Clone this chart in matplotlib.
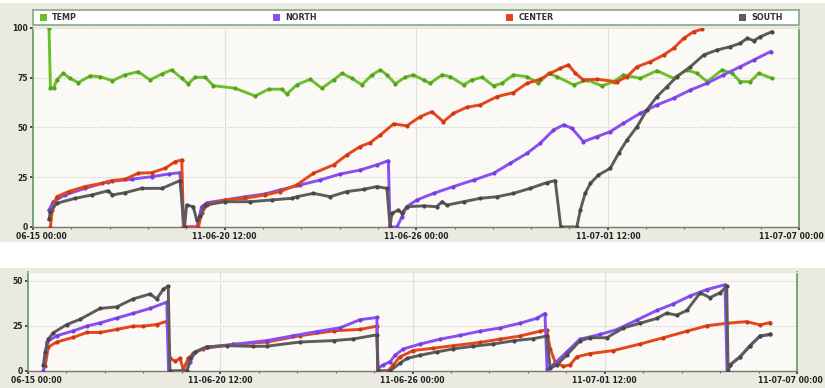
import matplotlib
matplotlib.use('Agg')
import matplotlib.pyplot as plt
import matplotlib.transforms as mtransforms
from matplotlib.patches import Rectangle
import numpy as np
import pandas as pd

# 数据：时间为距 2011-06-15 00:00 的天数
START = pd.Timestamp('2011-06-15 00:00')

TEMP_T = [0.46, 0.50, 0.60, 0.68, 0.87, 1.06, 1.30, 1.64, 1.92, 2.28, 2.64, 3.02, 3.36, 3.70, 3.98,
          4.27, 4.46, 4.65, 4.94, 5.18, 5.80, 6.38, 6.76, 7.14, 7.29, 7.57, 7.96, 8.29, 8.63, 8.87,
          9.15, 9.44, 9.73, 9.97, 10.16, 10.40, 10.68, 10.92, 11.21, 11.40, 11.74, 11.98, 12.36, 12.60, 12.89,
          13.22, 13.46, 13.79, 14.18, 14.51, 14.80, 15.04, 15.52, 15.90, 16.33, 16.67, 16.95, 17.43, 17.91, 18.39,
          18.77, 19.06, 19.35, 19.78, 20.07, 20.30, 20.59, 20.83, 21.21]
TEMP_V = [100, 70, 70, 73.9, 77.2, 74.7, 72.5, 75.9, 75.5, 73.5, 76.4, 78.0, 73.9, 76.9, 78.9,
          74.7, 71.9, 75.2, 75.2, 71.0, 69.7, 65.8, 69.2, 69.2, 66.8, 71.4, 74.2, 69.7, 73.9, 77.2,
          74.7, 71.4, 76.4, 78.9, 76.4, 71.9, 75.2, 76.4, 73.9, 72.2, 76.4, 75.5, 71.4, 73.9, 75.2,
          70.9, 72.2, 76.4, 75.5, 72.2, 77.2, 75.5, 71.4, 73.9, 70.9, 73.0, 76.4, 74.7, 78.5, 74.7,
          78.9, 77.2, 73.0, 78.9, 77.2, 73.0, 73.0, 77.2, 74.7]

NORTH_T = [0.46, 0.58, 0.92, 1.49, 2.16, 2.83, 3.41, 3.89, 4.22, 4.32, 4.70, 4.84, 4.99, 5.51, 6.09,
           6.66, 7.09, 7.67, 8.24, 8.82, 9.39, 9.87, 10.20, 10.25, 10.45, 10.59, 10.73, 11.02, 11.50, 12.07,
           12.65, 13.22, 13.70, 14.18, 14.56, 14.94, 15.23, 15.47, 15.80, 16.19, 16.57, 16.95, 17.43, 17.91, 18.39,
           18.87, 19.35, 19.82, 20.30, 20.69, 21.17]
NORTH_V = [8.5, 12.7, 16.1, 19.4, 22.8, 24.0, 25.3, 26.6, 27.3, 0, 0, 10.2, 12.2, 13.6, 15.2,
           16.6, 18.6, 21.1, 23.6, 26.6, 28.6, 31.2, 33.3, 0, 0, 5.2, 10.2, 13.6, 16.9, 20.3,
           23.6, 27.0, 32.0, 37.0, 42.1, 48.7, 51.3, 49.6, 42.9, 45.4, 47.9, 52.1, 57.1, 61.3, 64.7,
           68.8, 72.2, 76.4, 80.5, 83.9, 88.1]

CENTER_T = [0.50, 0.55, 0.68, 1.02, 1.49, 1.97, 2.26, 2.64, 3.02, 3.41, 3.79, 4.08, 4.27, 4.32, 4.75,
            4.84, 4.99, 5.51, 6.09, 6.66, 7.09, 7.57, 8.05, 8.63, 9.01, 9.39, 9.68, 9.97, 10.35, 10.73,
            11.11, 11.45, 11.78, 12.07, 12.46, 12.84, 13.32, 13.79, 14.18, 14.56, 14.85, 15.13, 15.37, 15.57, 15.80,
            16.19, 16.76, 17.05, 17.34, 17.72, 18.10, 18.39, 18.68, 18.96, 19.20]
CENTER_V = [0, 8.5, 15.2, 17.8, 20.3, 21.9, 23.3, 24.0, 27.0, 27.3, 29.5, 32.8, 33.7, 0, 0,
            7.0, 11.0, 13.6, 14.4, 16.1, 17.8, 21.1, 27.0, 31.2, 36.2, 40.4, 42.4, 46.2, 51.8, 50.8,
            55.4, 57.9, 52.9, 57.1, 60.2, 61.3, 65.5, 67.5, 72.2, 74.2, 77.2, 79.7, 81.4, 77.2, 73.9,
            74.2, 73.0, 75.5, 80.5, 83.0, 86.4, 89.8, 94.8, 98.1, 99.3]

SOUTH_T = [0.46, 0.50, 0.68, 1.21, 1.69, 2.16, 2.28, 2.64, 3.12, 3.70, 4.22, 4.35, 4.41, 4.60, 4.70,
           4.80, 4.94, 5.51, 6.24, 6.86, 7.43, 7.57, 8.05, 8.53, 9.01, 9.49, 9.87, 10.16, 10.25, 10.30,
           10.49, 10.59, 10.73, 11.21, 11.59, 11.74, 11.88, 12.36, 12.84, 13.32, 13.79, 14.27, 14.75, 14.99, 15.15,
           15.61, 15.71, 15.85, 16.00, 16.23, 16.57, 16.81, 17.05, 17.34, 17.62, 17.91, 18.20, 18.48, 18.87, 19.25,
           19.63, 20.02, 20.30, 20.50, 20.69, 20.88, 21.21]
SOUTH_V = [3.9, 7.7, 11.9, 14.4, 16.1, 18.2, 16.1, 17.2, 19.4, 19.4, 23.3, 0, 11.0, 10.2, 3.5,
           5.5, 11.0, 12.7, 12.7, 13.6, 14.4, 15.2, 16.9, 15.2, 17.8, 18.9, 20.3, 19.4, 0, 6.9,
           8.5, 6.9, 10.2, 10.6, 10.2, 12.7, 11.0, 12.7, 14.4, 15.2, 16.9, 19.4, 22.3, 23.3, 0,
           0, 8.5, 16.9, 21.9, 26.1, 29.5, 37.0, 43.7, 50.4, 58.8, 65.5, 70.5, 75.5, 80.5, 86.4,
           88.9, 90.6, 92.3, 94.8, 93.6, 95.6, 98.1]

# 下图（各区段的增量）
B_NORTH_T = [0.44, 0.54, 0.82, 1.30, 1.68, 2.06, 2.54, 3.01, 3.49, 3.97, 4.02, 4.54, 4.64, 4.78, 5.11,
             5.87, 6.83, 7.59, 8.26, 8.93, 9.50, 9.98, 10.01, 10.17, 10.36, 10.50, 10.74, 11.22, 11.79, 12.36,
             12.93, 13.50, 14.07, 14.55, 14.79, 14.85, 15.03, 15.41, 15.79, 16.37, 16.84, 17.42, 17.99, 18.46, 18.94,
             19.42, 19.94, 20.00, 20.09, 20.37, 20.66, 20.94, 21.23]
B_NORTH_V = [0, 16.0, 19.5, 22.2, 24.8, 26.6, 29.3, 31.9, 34.6, 38.1, 0, 0, 5.0, 10.5, 13.1,
             14.7, 16.8, 19.5, 21.8, 23.9, 28.4, 29.6, 1.6, 3.4, 5.1, 8.7, 12.2, 14.9, 17.6, 19.7,
             22.0, 23.8, 26.4, 29.1, 31.8, 1.0, 3.4, 10.5, 17.6, 20.2, 22.9, 28.2, 33.5, 37.1, 41.5,
             45.1, 47.7, 0, 3.4, 7.8, 14.0, 19.3, 20.2]

B_CENTER_T = [0.49, 0.58, 0.82, 1.30, 1.68, 2.06, 2.54, 3.01, 3.30, 3.68, 3.97, 4.06, 4.21, 4.35, 4.44,
              4.59, 4.73, 5.02, 5.87, 6.83, 7.78, 8.74, 9.50, 9.98, 10.01, 10.30, 10.45, 10.64, 11.02, 11.60,
              12.17, 12.93, 13.50, 14.07, 14.65, 14.84, 14.94, 15.08, 15.32, 15.51, 15.70, 16.08, 16.75, 17.51, 18.18,
              18.85, 19.42, 19.99, 20.56, 20.95, 21.23]
B_CENTER_V = [2.7, 13.3, 16.0, 18.6, 21.3, 21.3, 23.0, 24.8, 24.8, 25.7, 27.5, 7.1, 5.3, 7.1, 0.9,
              7.1, 9.7, 12.4, 14.7, 16.0, 19.5, 22.2, 23.0, 24.8, 0, 0, 3.4, 7.8, 11.3, 12.6,
              14.0, 15.8, 17.6, 19.3, 22.0, 22.9, 12.2, 5.1, 2.5, 3.4, 7.8, 9.6, 11.3, 14.9, 18.4,
              22.0, 25.0, 26.4, 27.3, 25.5, 26.8]

B_SOUTH_T = [0.44, 0.49, 0.58, 0.72, 1.11, 1.49, 2.06, 2.54, 3.01, 3.49, 3.68, 3.87, 4.01, 4.06, 4.54,
             4.64, 4.78, 5.11, 5.69, 6.45, 6.83, 7.78, 8.74, 9.31, 9.98, 10.01, 10.36, 10.64, 10.84, 11.22,
             11.69, 12.17, 12.74, 13.31, 13.89, 14.46, 14.84, 14.94, 15.13, 15.41, 15.79, 16.08, 16.56, 17.03, 17.51,
             17.99, 18.27, 18.56, 18.85, 19.23, 19.51, 19.80, 19.99, 20.03, 20.09, 20.37, 20.66, 20.94, 21.23]
B_SOUTH_V = [3.4, 10.5, 17.6, 21.1, 25.7, 28.6, 34.6, 35.5, 39.9, 42.6, 39.9, 45.2, 47.0, 0, 0,
             6.9, 10.5, 13.4, 14.0, 13.6, 13.7, 16.0, 16.8, 17.7, 20.0, 0, 0, 4.3, 6.9, 8.7,
             10.5, 12.2, 13.7, 14.9, 16.7, 17.9, 19.3, 1.5, 3.4, 8.7, 16.7, 18.4, 18.4, 23.8, 26.4,
             29.1, 32.0, 30.9, 33.5, 43.3, 40.6, 43.3, 46.8, 0, 3.4, 7.8, 14.0, 19.3, 20.2]

SERIES = ['TEMP', 'NORTH', 'CENTER', 'SOUTH']
TICK_DAYS = [0, 5.5, 11, 16.5, 22]
TICK_LABELS = ['06-15 00:00', '11-06-20 12:00', '11-06-26 00:00', '11-07-01 12:00', '11-07-07 00:00']

# 颜色：线色 / 点色
COLORS = {'TEMP': ('#6cbf2a', '#55a01f'), 'NORTH': ('#8a4ff0', '#7440dc'),
          'CENTER': ('#e6461a', '#c93a14'), 'SOUTH': ('#5c5c5c', '#474747')}
BEIGE = '#ebeae0'
PLOT_BG = '#faf9f5'
FONT = 'DejaVu Sans'


def to_time(days):
    return START + pd.to_timedelta(np.asarray(days, dtype=float), unit='D')


def draw_line(ax, name, t, v):
    c, mc = COLORS[name]
    ax.plot(to_time(t), v, color=c, lw=2.1, marker='o', ms=2.0,
            mfc=mc, mec=mc, solid_joinstyle='round', zorder=3)


def shift_label(lab, dx_px):
    fig = lab.figure
    lab.set_transform(lab.get_transform() +
                      mtransforms.ScaledTranslation(dx_px / fig.dpi, 0, fig.dpi_scale_trans))


def style_axis(ax, ymax, yticks, first_shift, last_shift):
    ax.set_facecolor(PLOT_BG)
    ax.set_xlim(to_time(0), to_time(22))
    ax.set_ylim(0, ymax)
    ax.set_xticks(to_time(TICK_DAYS))
    ax.set_xticklabels(TICK_LABELS)
    ax.set_xticks(to_time(np.arange(0, 22.01, 1.1)), minor=True)
    ax.set_yticks(yticks)
    ax.tick_params(axis='both', which='major', length=2.0, width=1.2, color='#333333',
                   labelsize=5.5, pad=1.5, labelcolor='#222222')
    ax.tick_params(axis='x', which='minor', length=1.5, width=0.8, color='#666666')
    for lab in ax.get_xticklabels() + ax.get_yticklabels():
        lab.set_fontfamily(FONT)
        lab.set_fontweight('bold')
    xlabs = ax.get_xticklabels()
    shift_label(xlabs[0], first_shift)
    # 最右侧标签贴着画布右边缘
    xlabs[-1].set_horizontalalignment('right')
    shift_label(xlabs[-1], last_shift)
    # 网格：横向虚点线，纵向浅色实线
    for y in yticks[1:]:
        ax.axhline(y, color='#c8c8c0', lw=0.8, ls=(0, (1, 1.5)), zorder=1)
    for d in TICK_DAYS[1:-1]:
        ax.axvline(to_time(d), color='#e0e0da', lw=0.8, zorder=1)
    ax.spines['left'].set_color('#5f9a5f')
    ax.spines['right'].set_color('#5f9a5f')
    ax.spines['left'].set_linewidth(1.2)
    ax.spines['right'].set_linewidth(1.2)
    ax.spines['bottom'].set_color('#777770')
    ax.spines['bottom'].set_linewidth(1.0)
    ax.spines['top'].set_color('#e6e6e0')


fig = plt.figure(figsize=(8.25, 3.88), dpi=100)
fig.patch.set_facecolor('white')
fig.patches.append(Rectangle((0, 0.376), 1, 0.616, transform=fig.transFigure,
                             facecolor=BEIGE, edgecolor='none', zorder=-10))
fig.patches.append(Rectangle((0, 0), 1, 0.31, transform=fig.transFigure,
                             facecolor=BEIGE, edgecolor='none', zorder=-10))

# 图例条
leg = fig.add_axes([0.040, 0.936, 0.929, 0.038])
leg.set_facecolor('white')
leg.set_xticks([])
leg.set_yticks([])
for s in leg.spines.values():
    s.set_color('#8fac8f')
    s.set_linewidth(1.3)
for i, name in enumerate(SERIES):
    x0 = 0.009 + i * 0.304
    leg.add_patch(Rectangle((x0, 0.25), 0.009, 0.5, transform=leg.transAxes,
                            facecolor=COLORS[name][0], edgecolor='none'))
    leg.text(x0 + 0.016, 0.5, name, transform=leg.transAxes, va='center', ha='left',
             fontsize=5.8, fontweight='bold', color='#333333', fontfamily=FONT)

# 上图：累计值
ax1 = fig.add_axes([0.040, 0.415, 0.929, 0.513])
draw_line(ax1, 'TEMP', TEMP_T, TEMP_V)
draw_line(ax1, 'NORTH', NORTH_T, NORTH_V)
draw_line(ax1, 'CENTER', CENTER_T, CENTER_V)
draw_line(ax1, 'SOUTH', SOUTH_T, SOUTH_V)
style_axis(ax1, 100, [0, 25, 50, 75, 100], 8, 24)

# 下图：分段值
ax2 = fig.add_axes([0.034, 0.044, 0.932, 0.255])
draw_line(ax2, 'CENTER', B_CENTER_T, B_CENTER_V)
draw_line(ax2, 'NORTH', B_NORTH_T, B_NORTH_V)
draw_line(ax2, 'SOUTH', B_SOUTH_T, B_SOUTH_V)
style_axis(ax2, 54.8, [0, 25, 50], 8, 26)

fig.savefig('out.png', dpi=100)
